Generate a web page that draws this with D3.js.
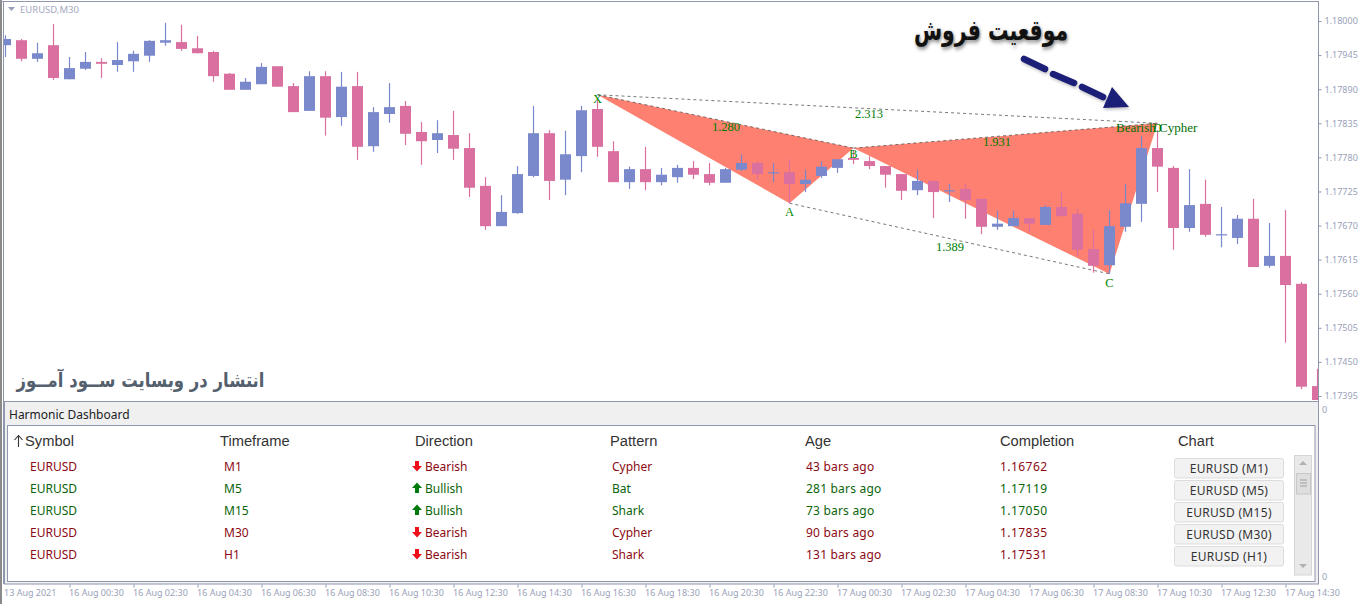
<!DOCTYPE html>
<html>
<head>
<meta charset="utf-8">
<script src="https://cdn.jsdelivr.net/npm/d3@7"></script>
<style>
    html, body { margin: 0; padding: 0; background: #fff; overflow: hidden; }
    svg { display: block; }
</style>
</head>
<body>
<div id="plot"></div>
<script>
// M30 candles, one entry per bar, oldest first
const opens = [1.17961,1.17969,1.17939,1.17961,1.17906,1.17923,1.17934,1.17929,1.17935,1.17944,1.17965,1.17966,1.17956,1.17950,1.17915,1.17889,1.17898,1.17927,1.17895,1.17855,1.17911,1.17845,1.17895,1.17798,1.17850,1.17863,1.17821,1.17808,1.17816,1.17795,1.17734,1.17669,1.17690,1.17750,1.17819,1.17744,1.17782,1.17858,1.17790,1.17740,1.17761,1.17740,1.17748,1.17763,1.17753,1.17739,1.17760,1.17771,1.17755,1.17756,1.17737,1.17750,1.17763,1.17779,1.17774,1.17766,1.17753,1.17727,1.17742,1.17726,1.17729,1.17713,1.17668,1.17669,1.17682,1.17671,1.17700,1.17689,1.17632,1.17606,1.17668,1.17705,1.17795,1.17763,1.17666,1.17705,1.17656,1.17650,1.17681,1.17605,1.17621,1.17576,1.17411];
const highs = [1.17977,1.17971,1.17965,1.17995,1.17942,1.17950,1.17940,1.17966,1.17952,1.17969,1.17997,1.17994,1.17976,1.17952,1.17916,1.17908,1.17932,1.17927,1.17900,1.17919,1.17919,1.17918,1.17918,1.17861,1.17900,1.17871,1.17837,1.17840,1.17855,1.17819,1.17748,1.17719,1.17766,1.17863,1.17824,1.17823,1.17863,1.17873,1.17806,1.17765,1.17797,1.17763,1.17768,1.17774,1.17771,1.17763,1.17785,1.17774,1.17771,1.17777,1.17760,1.17774,1.17777,1.17792,1.17782,1.17766,1.17753,1.17760,1.17742,1.17737,1.17737,1.17713,1.17694,1.17694,1.17682,1.17703,1.17724,1.17697,1.17663,1.17695,1.17737,1.17815,1.17824,1.17766,1.17761,1.17744,1.17700,1.17687,1.17713,1.17674,1.17695,1.17579,1.17439];
const lows = [1.17942,1.17935,1.17934,1.17905,1.17906,1.17921,1.17908,1.17918,1.17918,1.17934,1.17960,1.17952,1.17948,1.17902,1.17889,1.17889,1.17898,1.17894,1.17853,1.17855,1.17815,1.17831,1.17776,1.17789,1.17836,1.17800,1.17768,1.17787,1.17776,1.17716,1.17663,1.17669,1.17689,1.17748,1.17711,1.17719,1.17756,1.17781,1.17740,1.17729,1.17727,1.17735,1.17739,1.17745,1.17735,1.17739,1.17758,1.17744,1.17740,1.17706,1.17724,1.17747,1.17755,1.17769,1.17761,1.17731,1.17711,1.17719,1.17682,1.17708,1.17681,1.17656,1.17663,1.17669,1.17660,1.17671,1.17685,1.17621,1.17594,1.17592,1.17660,1.17676,1.17724,1.17631,1.17660,1.17652,1.17635,1.17640,1.17603,1.17602,1.17481,1.17406,1.17381];
const closes = [1.17971,1.17939,1.17948,1.17908,1.17924,1.17934,1.17931,1.17937,1.17947,1.17968,1.17969,1.17955,1.17948,1.17911,1.17889,1.17902,1.17926,1.17894,1.17853,1.17911,1.17844,1.17894,1.17797,1.17853,1.17861,1.17818,1.17806,1.17819,1.17794,1.17731,1.17669,1.17692,1.17753,1.17819,1.17742,1.17785,1.17856,1.17797,1.17740,1.17761,1.17740,1.17752,1.17763,1.17752,1.17739,1.17761,1.17771,1.17753,1.17756,1.17737,1.17744,1.17765,1.17777,1.17776,1.17766,1.17752,1.17726,1.17742,1.17724,1.17727,1.17711,1.17668,1.17673,1.17682,1.17673,1.17700,1.17685,1.17631,1.17605,1.17669,1.17706,1.17795,1.17765,1.17666,1.17703,1.17655,1.17656,1.17681,1.17603,1.17621,1.17574,1.17410,1.17381];

const priceTicks = [1.18000,1.17945,1.17890,1.17835,1.17780,1.17725,1.17670,1.17615,1.17560,1.17505,1.17450,1.17395];
const timeBars = [4,8,12,16,20,24,28,32,36,40,44,48,52,56,60,64,68,72,76,80];
const timeLabels = ['16 Aug 00:30','16 Aug 02:30','16 Aug 04:30','16 Aug 06:30','16 Aug 08:30','16 Aug 10:30','16 Aug 12:30','16 Aug 14:30','16 Aug 16:30','16 Aug 18:30','16 Aug 20:30','16 Aug 22:30','17 Aug 00:30','17 Aug 02:30','17 Aug 04:30','17 Aug 06:30','17 Aug 08:30','17 Aug 10:30','17 Aug 12:30','17 Aug 14:30'];

// harmonic pattern pivots
const pivotNames = ['X','A','B','C','D'];
const pivotBars = [37,49,53,69,72];
const pivotPrices = [1.17881,1.17706,1.17795,1.17592,1.17835];
const ratioLabels = ['1.280','2.313','1.931','1.389'];

// dashboard rows
const headers = ['Symbol','Timeframe','Direction','Pattern','Age','Completion','Chart'];
const symbols = ['EURUSD','EURUSD','EURUSD','EURUSD','EURUSD'];
const timeframes = ['M1','M5','M15','M30','H1'];
const directions = ['Bearish','Bullish','Bullish','Bearish','Bearish'];
const patterns = ['Cypher','Bat','Shark','Cypher','Shark'];
const ages = ['43 bars ago','281 bars ago','73 bars ago','90 bars ago','131 bars ago'];
const completions = ['1.16762','1.17119','1.17050','1.17835','1.17531'];
const chartButtons = ['EURUSD (M1)','EURUSD (M5)','EURUSD (M15)','EURUSD (M30)','EURUSD (H1)'];

const UI_FONT = '"Noto Sans", sans-serif';
const AXIS_COLOR = '#9a9fb8';
const LINE_COLOR = '#8f96ae';
const BULL = '#7a88cc';
const BEAR = '#d9709f';

const svg = d3.select('#plot').append('svg')
    .attr('width', 1364)
    .attr('height', 604);

const x = d3.scaleLinear().domain([0, 80]).range([5.5, 1285.5]);
const y = d3.scaleLinear().domain([1.17395, 1.18]).range([396, 21]);

const defs = svg.append('defs');
defs.append('clipPath').attr('id', 'plotClip')
    .append('rect').attr('x', 4).attr('y', 2).attr('width', 1314).attr('height', 398);
const blur = defs.append('filter').attr('id', 'soft')
    .attr('x', '-20%').attr('y', '-50%').attr('width', '140%').attr('height', '200%');
blur.append('feGaussianBlur').attr('stdDeviation', 1.6);

// window frame
svg.append('rect').attr('x', 0).attr('y', 0).attr('width', 2).attr('height', 604).attr('fill', '#8a8a8a');
svg.append('line').attr('x1', 3.5).attr('x2', 3.5).attr('y1', 1).attr('y2', 584).attr('stroke', LINE_COLOR);
svg.append('line').attr('x1', 0).attr('x2', 1318).attr('y1', 1.5).attr('y2', 1.5).attr('stroke', LINE_COLOR);

const plot = svg.append('g').attr('clip-path', 'url(#plotClip)');

// pattern triangles sit under the candles
const pivotPoint = i => [x(pivotBars[i]), y(pivotPrices[i])];
const triangle = d3.line();
plot.selectAll('.wing')
    .data([[0, 1, 2], [2, 3, 4]])
    .enter()
    .append('path')
    .attr('d', d => triangle(d.map(pivotPoint)) + 'Z')
    .attr('fill', '#fd8070');

[[0, 2], [2, 4], [0, 4], [1, 3]].forEach(([a, b]) => {
    plot.append('path')
        .attr('d', triangle([pivotPoint(a), pivotPoint(b)]))
        .attr('fill', 'none')
        .attr('stroke', '#555')
        .attr('stroke-width', 0.8)
        .attr('stroke-dasharray', '3,3');
});

const bars = d3.range(opens.length);
plot.selectAll('.wick')
    .data(bars)
    .enter()
    .append('line')
    .attr('x1', i => x(i))
    .attr('x2', i => x(i))
    .attr('y1', i => y(highs[i]))
    .attr('y2', i => y(lows[i]))
    .attr('stroke', i => closes[i] >= opens[i] ? BULL : BEAR)
    .attr('stroke-width', 1.2);

plot.selectAll('.body')
    .data(bars)
    .enter()
    .append('rect')
    .attr('x', i => x(i) - 5.5)
    .attr('width', 11)
    .attr('y', i => y(Math.max(opens[i], closes[i])))
    .attr('height', i => Math.max(1.2, Math.abs(y(opens[i]) - y(closes[i]))))
    .attr('fill', i => closes[i] >= opens[i] ? BULL : BEAR);

// pattern texts
const labelOffsets = [[0, 4], [0, 9], [0, 6], [0, 9], [0, 5]];
svg.selectAll('.pivot')
    .data(pivotNames)
    .enter()
    .append('text')
    .attr('x', (d, i) => x(pivotBars[i]) + labelOffsets[i][0])
    .attr('y', (d, i) => y(pivotPrices[i]) + labelOffsets[i][1] + 4)
    .attr('text-anchor', 'middle')
    .attr('font-family', '"Liberation Serif", serif')
    .attr('font-size', 12.5)
    .attr('fill', '#008a00')
    .text(d => d);

const ratioSpots = [[726, 131], [869, 118], [997, 146], [950, 251]];
svg.selectAll('.ratio')
    .data(ratioLabels)
    .enter()
    .append('text')
    .attr('x', (d, i) => ratioSpots[i][0])
    .attr('y', (d, i) => ratioSpots[i][1])
    .attr('text-anchor', 'middle')
    .attr('font-family', '"Liberation Serif", serif')
    .attr('font-size', 12.5)
    .attr('fill', '#007d00')
    .text(d => d);

svg.append('text')
    .attr('x', 1116)
    .attr('y', 132)
    .attr('font-family', '"Liberation Serif", serif')
    .attr('font-size', 13)
    .attr('fill', '#007000')
    .text('Bearish Cypher');

// chart title
svg.append('path').attr('d', 'M8 7h7l-3.5 4z').attr('fill', AXIS_COLOR);
svg.append('text')
    .attr('x', 20).attr('y', 12.5)
    .attr('font-family', UI_FONT).attr('font-size', 9.5)
    .attr('fill', '#a3a9bd')
    .text('EURUSD,M30');

// price axis
const priceAxis = svg.append('g')
    .attr('transform', 'translate(1318.5,0)')
    .call(d3.axisRight(y).tickValues(priceTicks).tickSize(3).tickPadding(3).tickFormat(d3.format('.5f')));
priceAxis.select('.domain').remove();
priceAxis.selectAll('line').attr('stroke', LINE_COLOR);
priceAxis.selectAll('text')
    .attr('font-family', UI_FONT).attr('font-size', 9)
    .attr('fill', AXIS_COLOR);
svg.append('line').attr('x1', 1318.5).attr('x2', 1318.5).attr('y1', 1).attr('y2', 584).attr('stroke', LINE_COLOR);

// time axis
const timeAxis = svg.append('g')
    .attr('transform', 'translate(0,584.5)')
    .call(d3.axisBottom(x).tickValues(timeBars).tickSize(3).tickPadding(2).tickFormat((d, i) => timeLabels[i]));
timeAxis.select('.domain').remove();
timeAxis.selectAll('line').attr('stroke', LINE_COLOR);
timeAxis.selectAll('text')
    .attr('text-anchor', 'start')
    .attr('dx', -1)
    .attr('font-family', UI_FONT).attr('font-size', 9)
    .attr('fill', AXIS_COLOR);
svg.append('text')
    .attr('x', 4).attr('y', 596)
    .attr('font-family', UI_FONT).attr('font-size', 9)
    .attr('fill', AXIS_COLOR)
    .text('13 Aug 2021');

// dashboard panel
svg.append('rect').attr('x', 4.5).attr('y', 401.5).attr('width', 1314).attr('height', 182.5)
    .attr('fill', '#f0f0f0').attr('stroke', LINE_COLOR);
svg.append('rect').attr('x', 7.5).attr('y', 425.5).attr('width', 1307.5).attr('height', 156)
    .attr('fill', '#fff').attr('stroke', LINE_COLOR);
svg.append('text')
    .attr('x', 9).attr('y', 418.5)
    .attr('font-family', UI_FONT).attr('font-size', 12)
    .attr('fill', '#222')
    .text('Harmonic Dashboard');

[0, 1].forEach(i => {
    svg.append('text')
        .attr('x', 1322).attr('y', [412.5, 579.5][i])
        .attr('font-family', UI_FONT).attr('font-size', 9)
        .attr('fill', AXIS_COLOR)
        .text('0');
});

const headerX = [25, 220, 415, 610, 805, 1000, 1178];
svg.selectAll('.head')
    .data(headers)
    .enter()
    .append('text')
    .attr('x', (d, i) => headerX[i])
    .attr('y', 446)
    .attr('font-family', '"Liberation Sans", sans-serif')
    .attr('font-size', 14.7)
    .attr('fill', '#333')
    .text(d => d);
svg.append('path')
    .attr('d', 'M18.5 447V436M14.5 440l4-4.5 4 4.5')
    .attr('fill', 'none').attr('stroke', '#333').attr('stroke-width', 1.1);

const rowY = d3.scalePoint().domain(d3.range(5)).range([466, 554]);
const rowColor = i => directions[i] === 'Bullish' ? '#0a640a' : '#8c0a14';

[[symbols, 30, 0], [timeframes, 224, 0], [directions, 425, 0], [patterns, 612, 0], [ages, 806, 0.2], [completions, 1000, 0.45]].forEach(([column, colX, spacing]) => {
    svg.selectAll(null)
        .data(column)
        .enter()
        .append('text')
        .attr('x', colX)
        .attr('y', (d, i) => rowY(i) + 4.5)
        .attr('font-family', UI_FONT)
        .attr('font-size', 12)
        .attr('letter-spacing', spacing)
        .attr('fill', (d, i) => rowColor(i))
        .text(d => d);
});

svg.selectAll('.dirArrow')
    .data(directions)
    .enter()
    .append('path')
    .attr('transform', (d, i) => `translate(417,${rowY(i)})${d === 'Bullish' ? '' : ' scale(1,-1)'}`)
    .attr('d', 'M0 -5.5L5 0H2V5H-2V0H-5Z')
    .attr('fill', d => d === 'Bullish' ? '#007a0a' : '#f0101a');

const buttons = svg.selectAll('.chartBtn')
    .data(chartButtons)
    .enter()
    .append('g')
    .attr('transform', (d, i) => `translate(1174.5,${rowY(i) - 7.5})`);
buttons.append('rect')
    .attr('width', 109).attr('height', 19.5).attr('rx', 2)
    .attr('fill', '#f2f2f2').attr('stroke', '#dcdcdc');
buttons.append('text')
    .attr('x', 54.5).attr('y', 14)
    .attr('text-anchor', 'middle')
    .attr('font-family', UI_FONT).attr('font-size', 12)
    .attr('letter-spacing', 0.3)
    .attr('fill', '#333')
    .text(d => d);

// scrollbar
svg.append('rect').attr('x', 1294.5).attr('y', 455.5).attr('width', 17).attr('height', 119.5)
    .attr('fill', '#e9e9e9').attr('stroke', '#d6d6d6');
svg.append('rect').attr('x', 1296.5).attr('y', 473.5).attr('width', 14).attr('height', 20.5)
    .attr('fill', '#dedede').attr('stroke', '#c8c8c8');
[480, 483, 486].forEach(ly => {
    svg.append('line').attr('x1', 1300).attr('x2', 1307).attr('y1', ly).attr('y2', ly).attr('stroke', '#a0a0a0');
});
svg.append('path').attr('d', 'M1303 461l4 4h-8z').attr('fill', '#b0b0b0');
svg.append('path').attr('d', 'M1303 568l4 -4h-8z').attr('fill', '#b0b0b0');

// hand drawn annotations on the picture
const arrowDashes = [[[1024, 59], [1045, 69]], [[1053, 74], [1074, 83]], [[1082, 87], [1103, 97]]];
const arrowHead = [[1112, 87], [1129, 107], [1103, 108]];
const drawArrow = (g, color) => {
    arrowDashes.forEach(dash => {
        g.append('path').attr('d', triangle(dash))
            .attr('stroke', color).attr('stroke-width', 6.5).attr('stroke-linecap', 'round').attr('fill', 'none');
    });
    g.append('path').attr('d', triangle(arrowHead) + 'Z').attr('fill', color);
};
drawArrow(svg.append('g').attr('transform', 'translate(1,2)').attr('filter', 'url(#soft)').attr('opacity', 0.35), '#555');
drawArrow(svg.append('g'), '#1c1f78');

// persian captions, squeezed to the width they take in the picture
const sellCaption = (dx, dy, color) => svg.append('text')
    .attr('transform', `translate(${991 + dx},${40 + dy}) scale(0.85,1.2)`)
    .attr('text-anchor', 'middle')
    .attr('direction', 'rtl')
    .attr('font-family', '"DejaVu Sans", sans-serif')
    .attr('font-weight', 'bold')
    .attr('font-size', 24)
    .attr('fill', color)
    .text('موقعیت فروش');
sellCaption(1, 2, '#777').attr('filter', 'url(#soft)');
sellCaption(0, 0, '#111');

svg.append('text')
    .attr('transform', 'translate(140.5,387) scale(0.915,1.1)')
    .attr('text-anchor', 'middle')
    .attr('direction', 'rtl')
    .attr('font-family', '"DejaVu Sans", sans-serif')
    .attr('font-weight', 'bold')
    .attr('font-size', 18)
    .attr('fill', '#55606e')
    .text('انتشار در وبسایت ســود آمــوز');
</script>
</body>
</html>
